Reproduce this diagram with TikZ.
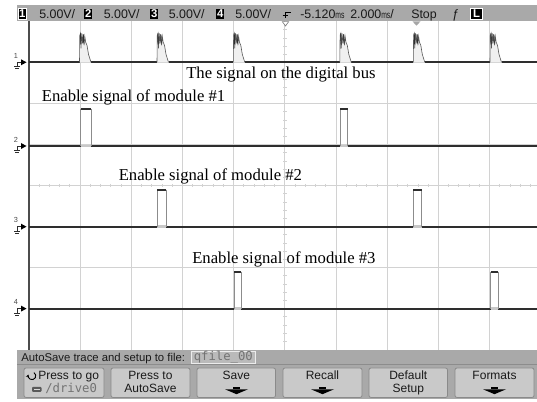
\documentclass[tikz,border=0pt]{standalone}
\usepackage{fontspec}
\usepackage{graphicx}
\setmainfont{Liberation Serif}
\newfontfamily\uifont{Liberation Sans}
\newfontfamily\monofont{DejaVu Sans Mono}
\usetikzlibrary{arrows.meta}
\definecolor{barg}{HTML}{A9A9A9}
\definecolor{btng}{HTML}{C9C9C9}
\definecolor{btnb}{HTML}{8A8A8A}
\definecolor{gridg}{HTML}{D2D2D2}
\definecolor{trc}{HTML}{2E2E2E}
\definecolor{edgeg}{HTML}{8C8C8C}
\definecolor{lowg}{HTML}{C8C8C8}
\newcommand\msglyph{\scalebox{0.55}[0.8]{ms}}
\newcommand\enpulse[3]{%
  \fill[lowg] (#2,{#1-1.2}) rectangle (#3,{#1+1.2});
  \draw[pedge] (#2,#1) -- (#2,{#1-37}) (#3,{#1-37}) -- (#3,#1);
  \draw[trace] (#2,{#1-37}) -- (#3,{#1-37});}
\newcommand\burst[1]{%
  \begin{scope}[shift={(#1,62.3)}]
    \fill[lowg] (0,-1.2) rectangle (11.5,1.2);
    \fill[gray!12] (0,0) -- (0.3,-27) -- (1,-29) -- (2.2,-29) -- (3.8,-28) -- (5.3,-26) -- (6.2,-20) -- (7.5,-17) -- (9,-8) -- (11.5,0) -- cycle;
    \draw[draw=trc!80, line width=0.45pt] (0,0) -- (0.3,-27) -- (1,-29) -- (1.5,-14) -- (2.2,-29) -- (3,-19) -- (3.8,-28) -- (4.6,-17) -- (5.3,-26) -- (6.2,-20) -- (7.5,-17) -- (9,-8) -- (11.5,0);
    \draw[draw=trc, line width=0.6pt] (1,-29) -- (1.3,-18) (3.8,-28) -- (4.2,-19);
  \end{scope}}
\newcommand\chmark[2]{%
  \node[chnum] (m#1) at (15.8,{#2-6.5}) {#1};
  \draw[draw=trc, line width=0.6pt] (17.2,{#2+4.5}) -- (17.2,#2) -- (21,#2);
  \fill[black] (21,{#2-3}) -- (26.5,#2) -- (21,{#2+3}) -- cycle;
  \draw[draw=trc, line width=0.6pt] (14,{#2+4.5}) -- (20.4,{#2+4.5}) (15.3,{#2+6.5}) -- (19.1,{#2+6.5});}
\newcommand\btnarrow[1]{%
  \fill[black] ({#1-3.5},386.6) rectangle ({#1+3.5},389.4);
  \fill[black] ({#1-11.5},389.3) -- ({#1+11.5},389.3) -- (#1,394.2) -- cycle;}
\begin{document}
\begin{tikzpicture}[x={(0.75pt,0)}, y={(0,-0.75pt)},
  gridline/.style={draw=gridg, line width=0.6pt},
  trace/.style={draw=trc, line width=1.4pt},
  pedge/.style={draw=edgeg, line width=0.6pt},
  lbl/.style={anchor=base west, inner sep=0, font=\fontsize{12.5}{14}\selectfont},
  topt/.style={anchor=base west, inner sep=0, font=\uifont\fontsize{9.3}{11}\selectfont, text=black!90},
  chbox/.style={fill=black, text=white, inner sep=0, minimum width=5.6pt, minimum height=8.2pt, font=\uifont\bfseries\fontsize{8.5}{9}\selectfont},
  chnum/.style={inner sep=0, font=\uifont\fontsize{5.5}{6}\selectfont, text=black!70},
  btn/.style={draw=btnb, fill=btng, rounded corners=1.5pt, line width=0.6pt},
  btnt/.style={anchor=base, inner sep=0, font=\uifont\fontsize{9}{10}\selectfont, text=black!90},
  stat/.style={anchor=base west, inner sep=0, font=\uifont\fontsize{8.5}{10}\selectfont, text=black!90},
  mono/.style={anchor=base west, inner sep=0, font=\monofont\fontsize{9.2}{10}\selectfont}
]
\useasboundingbox (0,0) rectangle (537,402);
\fill[white] (0,0) rectangle (537,402);
% grid
\foreach \k in {0,...,8} \draw[gridline] ({80+51.2*\k},21) -- ({80+51.2*\k},350);
\foreach \k in {1,...,7} \draw[gridline] (28.8,{21.7+41*\k}) -- (537,{21.7+41*\k});
\foreach \j in {1,...,49} \draw[gridline] ({28.8+10.24*\j},184) -- ({28.8+10.24*\j},187.4);
\foreach \j in {1,...,39} \draw[gridline] (283.1,{21.7+8.2*\j}) -- (286.5,{21.7+8.2*\j});
% left axis
\draw[draw=black!70, line width=1.4pt] (28.8,21) -- (28.8,350);
% channel 1: bus
\draw[trace] (28.8,62.3) -- (537,62.3);
\foreach \x in {79.5,157,233.3,339.8,413.3,490} {\burst{\x}}
% channel 2..4 baselines
\draw[trace] (28.8,146) -- (537,146);
\draw[trace] (28.8,226.7) -- (537,226.7);
\draw[trace] (28.8,308.6) -- (537,308.6);
\enpulse{146}{80.7}{91}
\enpulse{146}{340}{347.7}
\enpulse{226.7}{157}{166}
\enpulse{226.7}{413}{421.7}
\enpulse{308.6}{234}{241}
\enpulse{308.6}{490.7}{498}
% channel markers
\chmark{1}{62.3}
\chmark{2}{146}
\chmark{3}{226.7}
\chmark{4}{308.6}
% labels
\node[lbl] (lbus) at (186,79) {The signal on the digital bus};
\node[lbl] (l1) at (41.7,101.7) {Enable signal of module \#1};
\node[lbl] (l2) at (118.5,180.7) {Enable signal of module \#2};
\node[lbl] (l3) at (192,263.3) {Enable signal of module \#3};
% top bar
\fill[barg] (17,5) rectangle (537,21.5);
\node[chbox, draw=white, line width=0.5pt] (c1) at (22.2,14) {1};
\node[topt] (v1) at (39,18.3) {5.00V/};
\node[chbox] (c2) at (88.2,14) {2};
\node[topt] (v2) at (103.5,18.3) {5.00V/};
\node[chbox] (c3) at (154.2,14) {3};
\node[topt] (v3) at (168.5,18.3) {5.00V/};
\node[chbox] (c4) at (220.2,14) {4};
\node[topt] (v4) at (235,18.3) {5.00V/};
\draw[black, line width=0.7pt] (290.5,12.5) -- (285,12.5) -- (285,18.5);
\draw[black, line width=0.7pt] (282.5,15.5) -- (287.5,15.5);
\node[topt] (tdel) at (300,18.3) {-5.120\msglyph};
\node[topt] (tdiv) at (350,18.3) {2.000\msglyph/};
\node[topt] (stop) at (411,18.3) {Stop};
\node[topt] (slope) at (452,18.3) {ƒ};
\node[chbox, draw=white, line width=0.6pt, minimum width=9pt, minimum height=8.6pt] (lbox) at (476.6,13.8) {L};
\draw[draw=gray, fill=white, line width=0.5pt] (282.3,21.6) -- (288.7,21.6) -- (285.5,26) -- cycle;
\fill[gray!70] (412.5,21.4) -- (420.5,21.4) -- (416.5,25.7) -- cycle;
% bottom area
\fill[barg] (17,350) rectangle (537,399);
\draw[draw=black!45, line width=0.5pt] (17,364) -- (537,364);
\node[stat] (asave) at (21,361.3) {AutoSave trace and setup to file:};
\draw[draw=white!85!gray, fill=barg!80!white, line width=0.6pt] (191,351.5) rectangle (255.5,363);
\node[mono, text=black!55] (fname) at (193.5,361) {qfile\_00};
% buttons
\draw[btn] (24,368) rectangle (104,397.5);
\draw[btn] (111,368) rectangle (190,397.5);
\draw[btn] (197,368) rectangle (275.5,397.5);
\draw[btn] (283,368) rectangle (362,397.5);
\draw[btn] (369,368) rectangle (447.5,397.5);
\draw[btn] (455,368) rectangle (534,397.5);
% button 1
\draw[black, line width=0.7pt, -{Stealth[length=2.2pt,width=2.6pt]}] (33.9,372.6) arc (-60:200:3.8);
\node[btnt, anchor=base west] (b1a) at (38,379.5) {Press to go};
\fill[black!65, rounded corners=0.6pt] (32,387) rectangle (41.5,391.8);
\draw[white!70!gray, line width=0.4pt] (34,389.4) -- (39.5,389.4);
\node[mono, text=black!55] (b1b) at (45,392.3) {/drive0};
% button 2
\node[btnt] (b2a) at (150.5,379.5) {Press to};
\node[btnt] (b2b) at (150.5,392.3) {AutoSave};
% button 3
\node[btnt] (b3) at (236.3,379.5) {Save};
\btnarrow{236.5}
% button 4
\node[btnt] (b4) at (322.5,379.5) {Recall};
\btnarrow{322.5}
% button 5
\node[btnt] (b5a) at (408.3,379.5) {Default};
\node[btnt] (b5b) at (408.3,392.3) {Setup};
% button 6
\node[btnt] (b6) at (494.5,379.5) {Formats};
\btnarrow{494.5}
\end{tikzpicture}
\end{document}
